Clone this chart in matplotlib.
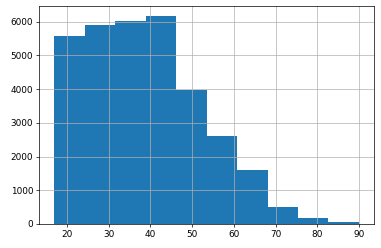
import matplotlib
matplotlib.use("Agg")
import matplotlib.pyplot as plt
import numpy as np

# histogram bins (10 equal bins from 17 to 90) and counts
edges = np.linspace(17, 90, 11)
counts = [5565, 5893, 6032, 6161, 3968, 2599, 1607, 506, 179, 69]

fig = plt.figure(figsize=(6, 248 / 63.5), dpi=63.5)
ax = fig.add_subplot(111)
ax.hist(edges[:-1], bins=edges, weights=counts, color='#1f77b4')
ax.grid(True)
fig.subplots_adjust(left=0.103, right=0.982, top=0.976, bottom=0.097)
fig.savefig("out.png", dpi=63.5)
